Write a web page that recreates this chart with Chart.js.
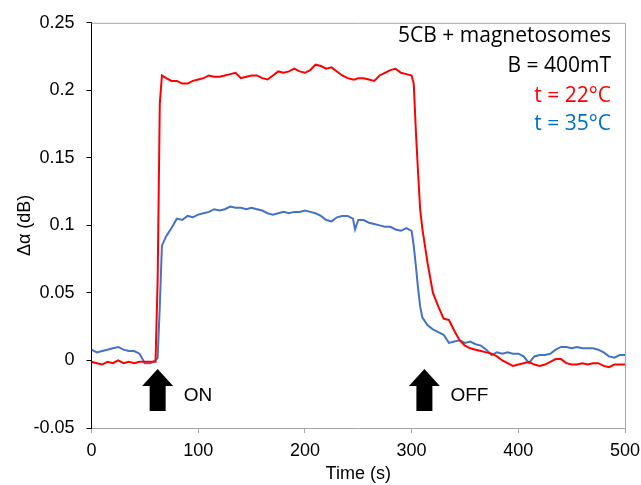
<!DOCTYPE html>
<html>
<head>
<meta charset="utf-8">
<script src="https://cdn.jsdelivr.net/npm/chart.js@4.4.1/dist/chart.umd.min.js"></script>
<style>
  html, body { margin: 0; padding: 0; background: #fff; }
  canvas { display: block; }
</style>
</head>
<body>
<canvas id="chart" width="641" height="485"></canvas>
<script>
// time axis (s)
var time = [0,5,10,15,20,25,30,35,40,45,50,55,60,62,64,66,70,75,80,85,90,95,
  100,105,110,115,120,125,130,135,140,145,150,155,160,165,170,175,180,185,190,195,
  200,205,210,215,220,225,230,235,240,245,247,250,255,260,265,270,275,280,285,290,295,
  300,302,304,306,308,310,315,320,325,330,335,340,345,350,355,360,365,370,375,380,385,390,395,
  400,405,410,415,420,425,430,435,440,445,450,455,460,465,470,475,480,485,490,495,500];

// t = 22°C
var red22 = [-0.001,-0.002,-0.003,-0.001,-0.002,0.000,-0.002,-0.001,-0.002,-0.001,-0.001,-0.001,-0.001,0.060,0.190,0.211,0.209,0.207,0.207,0.205,0.205,0.207,
  0.208,0.209,0.211,0.210,0.210,0.211,0.212,0.213,0.209,0.210,0.211,0.211,0.209,0.208,0.211,0.214,0.213,0.214,0.216,0.214,
  0.213,0.215,0.219,0.218,0.216,0.217,0.214,0.211,0.209,0.208,0.208,0.209,0.209,0.208,0.207,0.211,0.213,0.215,0.216,0.213,0.212,
  0.211,0.205,0.170,0.140,0.112,0.098,0.072,0.050,0.040,0.031,0.030,0.022,0.015,0.011,0.009,0.008,0.007,0.006,0.005,0.003,0.000,-0.002,-0.004,
  -0.003,-0.002,-0.001,-0.003,-0.004,-0.003,-0.001,0.001,0.001,-0.002,-0.003,-0.003,-0.002,-0.003,-0.002,-0.002,-0.004,-0.005,-0.003,-0.003,-0.003];

// t = 35°C
var blue35 = [0.008,0.006,0.007,0.008,0.009,0.010,0.008,0.007,0.007,0.005,-0.002,-0.002,0.000,0.002,0.040,0.085,0.092,0.098,0.105,0.104,0.107,0.106,
  0.108,0.109,0.110,0.112,0.111,0.112,0.114,0.113,0.113,0.112,0.113,0.112,0.111,0.109,0.108,0.109,0.110,0.109,0.110,0.110,
  0.111,0.110,0.109,0.107,0.104,0.103,0.106,0.107,0.107,0.105,0.097,0.104,0.104,0.102,0.101,0.100,0.099,0.099,0.097,0.096,0.098,
  0.096,0.085,0.070,0.054,0.040,0.032,0.026,0.023,0.021,0.019,0.013,0.014,0.015,0.013,0.014,0.012,0.011,0.008,0.004,0.006,0.005,0.006,0.005,
  0.005,0.003,-0.002,0.003,0.004,0.004,0.005,0.008,0.010,0.010,0.009,0.010,0.009,0.009,0.009,0.008,0.006,0.003,0.002,0.004,0.004];

// annotation text (right-aligned, top right) and switch markers
var notes = ["5CB + magnetosomes", "B = 400mT", "t = 22°C", "t = 35°C"];
var noteColors = ["#000000", "#000000", "#ff0000", "#0070c0"];
var switchTimes = [62, 312];
var switchLabels = ["ON", "OFF"];

function toPoints(xs, ys) {
  var pts = [];
  for (var i = 0; i < xs.length; i++) pts.push({x: xs[i], y: ys[i]});
  return pts;
}

var extras = {
  id: 'extras',
  afterDraw: function(chart) {
    var ctx = chart.ctx;
    var area = chart.chartArea;
    var xs = chart.scales.x;
    ctx.save();
    // gray frame top + right
    ctx.strokeStyle = '#a6a6a6';
    ctx.lineWidth = 1;
    ctx.beginPath();
    ctx.moveTo(area.left, area.top + 0.5);
    ctx.lineTo(area.right + 0.5, area.top + 0.5);
    ctx.lineTo(area.right + 0.5, area.bottom);
    ctx.stroke();

    // notes
    ctx.font = '21px "Open Sans", sans-serif';
    ctx.textAlign = 'right';
    ctx.textBaseline = 'middle';
    var ny = [36, 66, 96, 124];
    for (var i = 0; i < notes.length; i++) {
      ctx.fillStyle = noteColors[i];
      ctx.fillText(notes[i], 611, ny[i]);
    }

    // arrows
    for (var j = 0; j < switchTimes.length; j++) {
      var cx = xs.getPixelForValue(switchTimes[j]);
      var top = 369, headBot = 386, bot = 411;
      ctx.fillStyle = '#000';
      ctx.beginPath();
      ctx.moveTo(cx, top);
      ctx.lineTo(cx + 15.5, headBot);
      ctx.lineTo(cx + 8, headBot);
      ctx.lineTo(cx + 8, bot);
      ctx.lineTo(cx - 8, bot);
      ctx.lineTo(cx - 8, headBot);
      ctx.lineTo(cx - 15.5, headBot);
      ctx.closePath();
      ctx.fill();
      ctx.font = '19px "Liberation Sans", Arial, sans-serif';
      ctx.textAlign = 'left';
      ctx.fillText(switchLabels[j], cx + 26, 396);
    }
    ctx.restore();
  }
};

var axisFont = { size: 18, family: '"Liberation Sans", Arial' };

new Chart(document.getElementById('chart'), {
  type: 'scatter',
  data: {
    datasets: [
      { label: 't = 22°C', data: toPoints(time, red22), borderColor: '#ff0000', showLine: true, pointRadius: 0, borderWidth: 2, tension: 0 },
      { label: 't = 35°C', data: toPoints(time, blue35), borderColor: '#4472c4', showLine: true, pointRadius: 0, borderWidth: 2, tension: 0 }
    ]
  },
  options: {
    responsive: false,
    animation: false,
    layout: { padding: { top: 20, right: 16, left: 14, bottom: 0 } },
    plugins: { legend: { display: false }, tooltip: { enabled: false } },
    scales: {
      x: {
        type: 'linear', min: 0, max: 500,
        ticks: { stepSize: 100, color: '#000', font: axisFont, padding: 7 },
        grid: { drawOnChartArea: false, color: '#a6a6a6', tickLength: 5 },
        border: { color: '#a6a6a6' },
        title: { display: true, text: 'Time (s)', color: '#000', font: axisFont, padding: { top: 0, bottom: 0 } },
        afterFit: function(s) { s.height = 57; s.paddingLeft = 0; s.paddingRight = 0; }
      },
      y: {
        min: -0.05, max: 0.25,
        ticks: { stepSize: 0.05, color: '#000', font: axisFont, padding: 12,
          callback: function(v) { return String(+v.toFixed(2)); } },
        grid: { drawOnChartArea: false, color: '#000', tickLength: 5 },
        border: { color: '#000' },
        title: { display: true, text: 'Δα (dB)', color: '#000', font: axisFont, padding: 0 },
        afterFit: function(s) { s.width = 77.5; }
      }
    }
  },
  plugins: [extras]
});
</script>
</body>
</html>
